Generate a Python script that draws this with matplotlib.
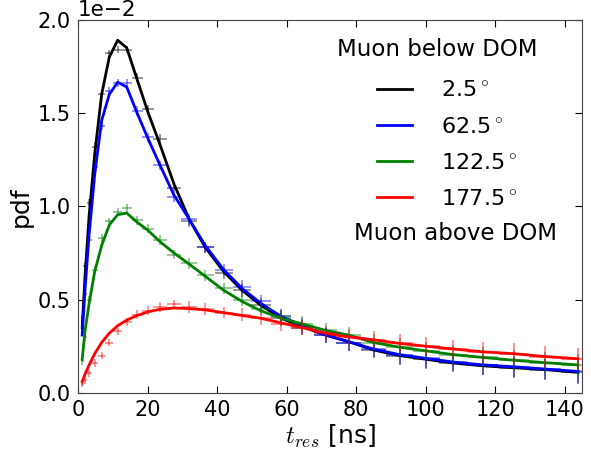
import numpy as np
import matplotlib
matplotlib.use("Agg")
import matplotlib.pyplot as plt

plt.rcParams["mathtext.fontset"] = "cm"

# bin centres and half widths of t_res [ns]
t_centers = [1.2, 2.0, 3.2, 4.8, 6.8, 9.0, 11.4, 14.0, 17.0, 20.2, 23.6, 27.6, 32.0,
             36.6, 41.9, 47.2, 52.6, 58.4, 64.5, 71.2, 77.8, 85.0, 92.5, 100.2,
             108.0, 116.5, 125.4, 134.3, 143.8]
t_halfwidth = [0.4, 0.5, 0.7, 0.9, 1.1, 1.2, 1.3, 1.4, 1.6, 1.7, 1.9, 2.1, 2.3,
               2.4, 2.6, 2.7, 2.8, 3.0, 3.2, 3.3, 3.5, 3.7, 3.8, 3.9,
               4.1, 4.3, 4.4, 4.6, 4.8]
# vertical error (units of 1e-2)
pdf_err = [0.02, 0.02, 0.02, 0.02, 0.02, 0.02, 0.02, 0.02, 0.025, 0.025, 0.025, 0.025, 0.03,
           0.03, 0.03, 0.035, 0.035, 0.04, 0.04, 0.04, 0.045, 0.045, 0.05, 0.05,
           0.05, 0.055, 0.055, 0.055, 0.06]

labels = ["2.5$^\\circ$", "62.5$^\\circ$", "122.5$^\\circ$", "177.5$^\\circ$"]
colors = ["k", "b", "g", "r"]

# model curves (units of 1e-2)
model_2p5 = [0.35, 0.62, 0.95, 1.28, 1.60, 1.80, 1.89, 1.85, 1.68, 1.50, 1.33, 1.12, 0.93,
             0.78, 0.65, 0.55, 0.47, 0.40, 0.355, 0.31, 0.275, 0.23, 0.20, 0.18,
             0.16, 0.145, 0.135, 0.125, 0.11]
model_62p5 = [0.31, 0.55, 0.85, 1.17, 1.46, 1.60, 1.665, 1.64, 1.50, 1.36, 1.22, 1.06, 0.93,
              0.79, 0.66, 0.56, 0.48, 0.41, 0.36, 0.31, 0.275, 0.235, 0.205, 0.185,
              0.165, 0.15, 0.14, 0.128, 0.115]
model_122p5 = [0.18, 0.33, 0.48, 0.65, 0.79, 0.90, 0.955, 0.964, 0.915, 0.87, 0.81, 0.75, 0.69,
               0.625, 0.55, 0.49, 0.44, 0.40, 0.37, 0.335, 0.31, 0.27, 0.245, 0.225,
               0.205, 0.19, 0.175, 0.162, 0.15]
model_177p5 = [0.06, 0.10, 0.15, 0.21, 0.27, 0.32, 0.36, 0.39, 0.415, 0.435, 0.448, 0.455, 0.452,
               0.445, 0.43, 0.415, 0.40, 0.375, 0.35, 0.32, 0.30, 0.285, 0.265, 0.25,
               0.235, 0.22, 0.21, 0.195, 0.183]

# simulated histogram values (units of 1e-2)
data_2p5 = [0.40, 0.68, 1.02, 1.32, 1.60, 1.82, 1.84, 1.84, 1.69, 1.52, 1.36, 1.10, 0.92,
            0.78, 0.64, 0.55, 0.47, 0.40, 0.35, 0.31, 0.27, 0.23, 0.20, 0.18,
            0.16, 0.15, 0.135, 0.125, 0.11]
data_62p5 = [0.35, 0.53, 0.82, 1.21, 1.43, 1.62, 1.66, 1.66, 1.51, 1.37, 1.22, 1.05, 0.93,
             0.78, 0.66, 0.57, 0.49, 0.41, 0.36, 0.31, 0.27, 0.235, 0.205, 0.185,
             0.165, 0.15, 0.14, 0.128, 0.115]
data_122p5 = [0.17, 0.30, 0.50, 0.66, 0.83, 0.92, 0.97, 0.99, 0.925, 0.88, 0.82, 0.74, 0.695,
              0.63, 0.56, 0.50, 0.45, 0.41, 0.37, 0.335, 0.31, 0.27, 0.245, 0.225,
              0.205, 0.19, 0.175, 0.162, 0.15]
data_177p5 = [0.05, 0.07, 0.105, 0.16, 0.20, 0.27, 0.33, 0.38, 0.42, 0.44, 0.46, 0.475, 0.46,
              0.45, 0.43, 0.42, 0.40, 0.37, 0.35, 0.32, 0.30, 0.285, 0.265, 0.25,
              0.235, 0.22, 0.21, 0.195, 0.183]

models = [model_2p5, model_62p5, model_122p5, model_177p5]
datas = [data_2p5, data_62p5, data_122p5, data_177p5]

fig = plt.figure(figsize=(5.91, 4.59), dpi=100)
ax = fig.add_axes([0.132, 0.144, 0.853, 0.813])

t = np.array(t_centers)
for model, data, col, lab in zip(models, datas, colors, labels):
    ax.errorbar(t, np.array(data) * 1e-2, xerr=t_halfwidth, yerr=np.array(pdf_err) * 1e-2,
                fmt="none", ecolor=col, alpha=0.45, elinewidth=1.3, capsize=0)
    ax.plot(t, np.array(model) * 1e-2, color=col, lw=2, label=lab)

ax.set_xlim(0, 145)
ax.set_ylim(0, 0.02)
ax.set_yticks([0, 0.005, 0.01, 0.015, 0.02])
ax.set_xticks([0, 20, 40, 60, 80, 100, 120, 140])
ax.ticklabel_format(axis="y", style="sci", scilimits=(0, 0))
ax.tick_params(direction="in", top=True, right=True, labelsize=15, length=5, pad=5)
for s in ax.spines.values():
    s.set_color("#444444")
ax.yaxis.get_offset_text().set_fontsize(15.5)

ax.set_xlabel("$t_{res}$ [ns]", fontsize=18, labelpad=2)
ax.set_ylabel("pdf", fontsize=18, labelpad=4)

leg = ax.legend(loc="upper left", frameon=False, fontsize=16,
                handlelength=1.6, handletextpad=1.3, labelspacing=0.73,
                bbox_to_anchor=(0.553, 0.891))
ax.text(0.712, 0.920, "Muon below DOM", transform=ax.transAxes, fontsize=16.5,
        ha="center", va="center")
ax.text(0.748, 0.428, "Muon above DOM", transform=ax.transAxes, fontsize=16.5,
        ha="center", va="center")

fig.savefig("out.png", dpi=100)
